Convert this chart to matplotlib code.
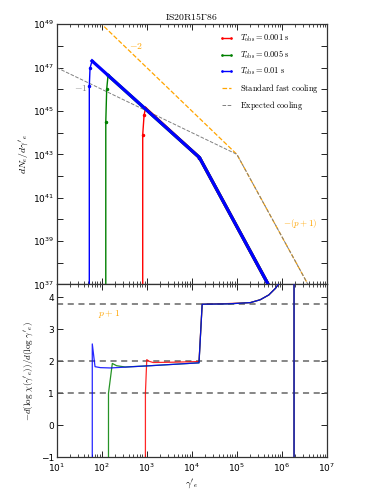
import numpy as np
import matplotlib.pyplot as plt
from matplotlib.ticker import FixedLocator, FuncFormatter, LogLocator, NullFormatter
from matplotlib.font_manager import FontProperties

# ---- data (log10 values) ----
title = r'$\rm IS20R15\Gamma86$'
labels = [r'$T_{\rm obs}=0.001\ {\rm s}$', r'$T_{\rm obs}=0.005\ {\rm s}$', r'$T_{\rm obs}=0.01\ {\rm s}$']
colors = ['red', 'green', 'blue']

# top panel: log10(gamma'_e) , log10(dN_e/dgamma'_e)
lg_red = [2.91, 2.91, 2.94, 2.97, 4.17, 6.27]
ln_red = [30.0, 43.9, 44.8, 45.12, 42.85, 34.8]
lg_green = [2.09, 2.09, 2.11, 2.14, 4.17, 6.27]
ln_green = [30.0, 44.5, 46.0, 46.64, 42.85, 34.8]
lg_blue = [1.724, 1.724, 1.74, 1.784, 4.17, 6.27]
ln_blue = [30.0, 46.14, 46.97, 47.31, 42.85, 34.8]
peak_idx = 3  # index where the cooled power law starts

# reference power laws
lg_std = [1.0, 5.0, 7.0]
ln_std = [51.0, 43.0, 35.4]
lg_exp = [1.0, 5.0, 7.0]
ln_exp = [47.0, 43.0, 35.4]

# bottom panel: log10(gamma'_e) , -dlog chi / dlog gamma
dg_red = [2.97, 2.97, 3.00, 3.05, 3.14, 3.60, 4.16, 4.23, 4.80, 5.30, 5.52, 5.71, 5.86, 5.93, 6.00, 6.27, 6.27]
dv_red = [-5.0, 1.0, 2.05, 2.00, 1.96, 1.97, 1.99, 3.78, 3.80, 3.83, 3.92, 4.07, 4.28, 4.42, 5.0, 6.0, -5.0]
dg_green = [2.15, 2.15, 2.235, 2.33, 2.52, 3.08, 4.16, 4.23, 4.80, 5.30, 5.52, 5.71, 5.86, 5.93, 6.00, 6.27, 6.27]
dv_green = [-5.0, 1.0, 1.93, 1.86, 1.82, 1.86, 1.95, 3.78, 3.79, 3.83, 3.92, 4.07, 4.28, 4.42, 5.0, 6.0, -5.0]
dg_blue = [1.79, 1.79, 1.851, 1.97, 2.19, 3.08, 4.16, 4.23, 4.80, 5.30, 5.52, 5.71, 5.86, 5.93, 6.00, 6.27, 6.27]
dv_blue = [-5.0, 2.54, 1.83, 1.80, 1.79, 1.86, 1.95, 3.78, 3.79, 3.83, 3.92, 4.07, 4.28, 4.42, 5.0, 6.0, -5.0]
ref_levels = [1.0, 2.0, 3.8]

plt.rcParams['font.family'] = 'DejaVu Sans'
plt.rcParams['xtick.direction'] = 'in'
plt.rcParams['ytick.direction'] = 'in'

fig = plt.figure(figsize=(3.74, 4.98), dpi=100)
ax1 = fig.add_axes([0.1516, 0.4290, 0.7225, 0.5223])
ax2 = fig.add_axes([0.1516, 0.0817, 0.7225, 0.3473])

cm = FontProperties(math_fontfamily='cm', size=6)

tops = [(lg_red, ln_red), (lg_green, ln_green), (lg_blue, ln_blue)]
for (lg, ln), c, lab in zip(tops, colors, labels):
    g = 10.0 ** np.array(lg)
    n = 10.0 ** np.array(ln)
    ax1.plot(g, n, '.-', color=c, lw=1.0, ms=3, label=lab, zorder=3)
    ax1.plot(g[peak_idx:], n[peak_idx:], '-', color=c, lw=2.3, zorder=3)

ax1.plot(10.0 ** np.array(lg_std), 10.0 ** np.array(ln_std), '--', color='orange',
         lw=0.9, label=r'$\rm Standard\ fast\ cooling$', zorder=2)
ax1.plot(10.0 ** np.array(lg_exp), 10.0 ** np.array(ln_exp), '--', color='gray',
         lw=0.7, label=r'$\rm Expected\ cooling$', zorder=2)

ax1.text(10 ** 2.77, 10 ** 48.0, r'$-2$', color='orange', fontsize=7, math_fontfamily='cm',
         ha='center', va='center')
ax1.text(10 ** 1.54, 10 ** 46.05, r'$-1$', color='gray', fontsize=7, math_fontfamily='cm',
         ha='center', va='center')
ax1.text(10 ** 6.03, 10 ** 39.8, r'$-(p+1)$', color='orange', fontsize=6.5, math_fontfamily='cm',
         ha='left', va='center')

ax1.set_xscale('log')
ax1.set_yscale('log')
ax1.set_xlim(1e1, 1e7)
ax1.set_ylim(1e37, 1e49)
ax1.yaxis.set_major_locator(FixedLocator([10.0 ** k for k in range(37, 50)]))
ax1.yaxis.set_minor_locator(FixedLocator([]))
ax1.yaxis.set_major_formatter(FuncFormatter(
    lambda v, p: r'$\mathdefault{10^{%d}}$' % round(np.log10(v)) if round(np.log10(v)) % 2 == 1 else ''))
ax1.xaxis.set_major_locator(LogLocator(base=10, numticks=10))
ax1.xaxis.set_minor_locator(LogLocator(base=10, subs=np.arange(2, 10), numticks=20))
ax1.xaxis.set_major_formatter(NullFormatter())
ax1.xaxis.set_minor_formatter(NullFormatter())
ax1.set_title(title, fontsize=7, math_fontfamily='cm', pad=3)
ax1.set_ylabel(r"$dN_e/d\gamma'_e$", fontsize=7, math_fontfamily='cm', labelpad=2)
leg = ax1.legend(loc='upper right', frameon=False, prop=cm, handlelength=1.6,
                 labelspacing=0.55, numpoints=2, markerscale=0.6, borderaxespad=0.6)

bots = [(dg_red, dv_red), (dg_green, dv_green), (dg_blue, dv_blue)]
for (dg, dv), c in zip(bots, colors):
    ax2.plot(10.0 ** np.array(dg), dv, '-', color=c, lw=0.9, alpha=0.85, zorder=3)
for lvl in ref_levels:
    ax2.axhline(lvl, ls='--', color='0.4', lw=1.1, dashes=(4, 3), zorder=2)
ax2.text(10 ** 2.16, 3.48, r'$p+1$', color='orange', fontsize=7, math_fontfamily='cm',
         ha='center', va='center')

ax2.set_xscale('log')
ax2.set_xlim(1e1, 1e7)
ax2.set_ylim(-1, 4.4)
ax2.set_yticks([-1, 0, 1, 2, 3, 4])
ax2.xaxis.set_major_locator(LogLocator(base=10, numticks=10))
ax2.xaxis.set_minor_locator(LogLocator(base=10, subs=np.arange(2, 10), numticks=20))
ax2.xaxis.set_minor_formatter(NullFormatter())
ax2.set_xlabel(r"$\gamma'_e$", fontsize=7, math_fontfamily='cm', labelpad=2)
ax2.set_ylabel(r"$-d(\log\,\chi(\gamma'_e))/d(\log\,\gamma'_e)$", fontsize=6.5,
               math_fontfamily='cm', labelpad=4)

for ax in (ax1, ax2):
    ax.tick_params(which='both', top=True, right=True, labelsize=6.5, pad=2)
    ax.tick_params(which='major', length=4, width=0.6)
    ax.tick_params(which='minor', length=2, width=0.5)
    for s in ax.spines.values():
        s.set_linewidth(0.9)
        s.set_color('0.2')
ax2.tick_params(axis='x', pad=3)

fig.savefig('out.png', dpi=100)
